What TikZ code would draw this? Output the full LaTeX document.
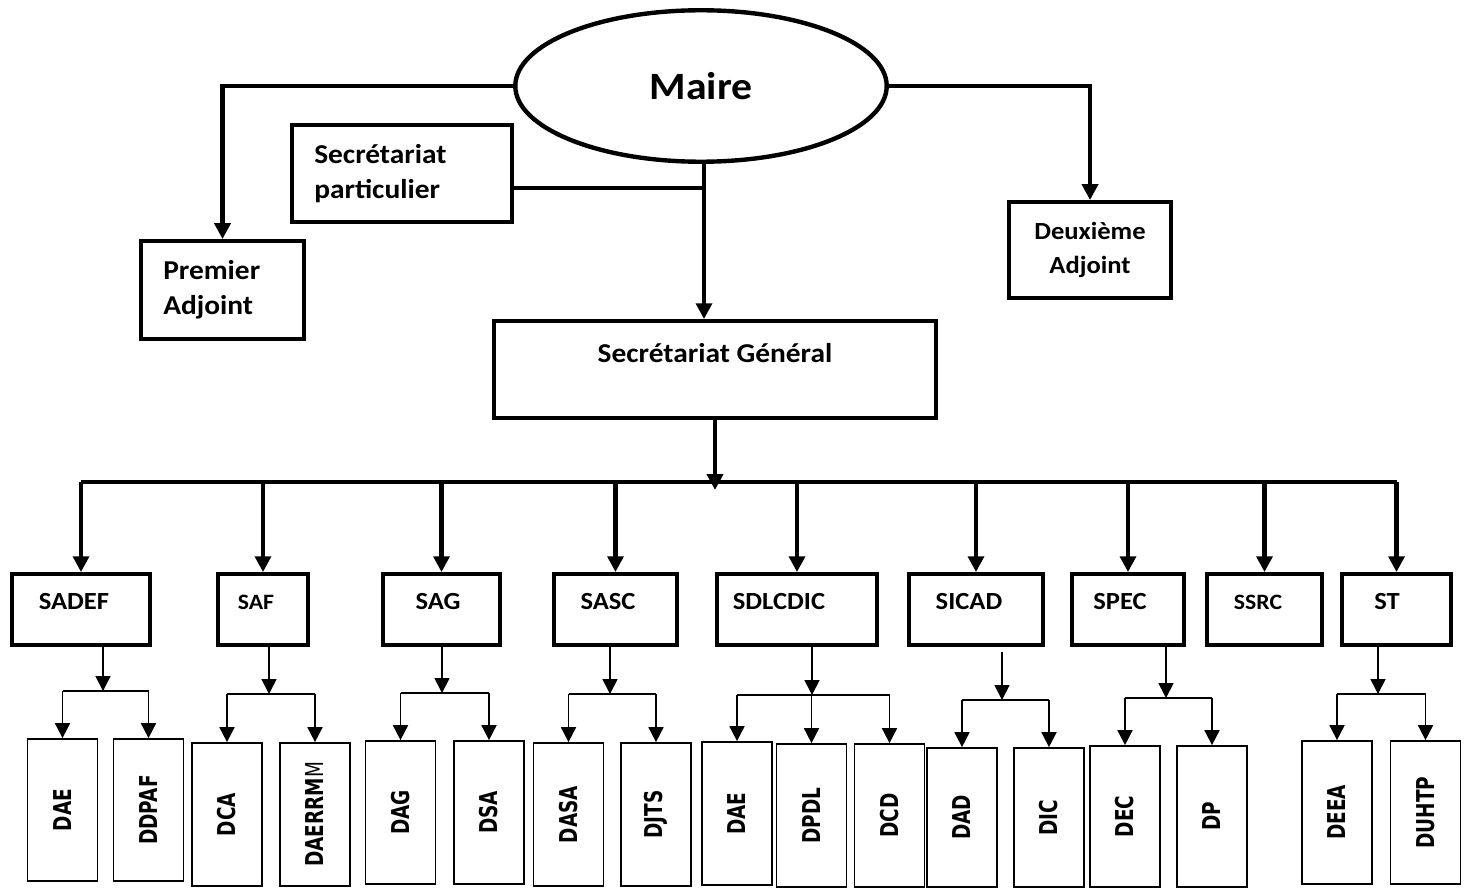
\documentclass[tikz,border=0pt]{standalone}
\usepackage{fontspec}
\usepackage{graphicx}
\usepackage{tikz}
\usetikzlibrary{arrows.meta,shapes.geometric}
\setmainfont{Carlito}[FakeStretch=1.08]
\newfontfamily\rotfont{DejaVu Sans}[FakeStretch=0.75]

\tikzset{
  chef/.style={ellipse, draw, line width=2.5pt, inner sep=0pt, minimum width=7.43cm, minimum height=3.03cm, font=\bfseries\fontsize{22}{27}\selectfont},
  topbox/.style={draw, line width=2.5pt, inner ysep=0pt, align=left, font=\bfseries\fontsize{15.5}{20}\selectfont},
  svcbox/.style={draw, line width=2.5pt, minimum height=1.41cm, text height=9pt, text depth=9pt, font=\bfseries\fontsize{14}{17}\selectfont, execute at end node={\kern#1}},
  svcbox/.default=0.28cm,
  dirbox/.style={draw, line width=1pt, minimum width=1.4cm, inner sep=0pt, font=\rotfont\bfseries\fontsize{14}{17}\selectfont},
  bigline/.style={line width=2.5pt},
  bigarrow/.style={line width=2.5pt, -{Triangle[width=9pt,length=9pt]}},
  smallline/.style={line width=1pt},
  smallarrow/.style={line width=1pt, -{Triangle[width=8.5pt,length=8.5pt]}}
}

\begin{document}
\begin{tikzpicture}[x=0.02cm, y=-0.02cm]
  \useasboundingbox (0,0) rectangle (1473,888);

  % haut de l'organigramme
  \node[chef] (maire) at (701,86) {Maire};
  \node[topbox, minimum width=3.25cm, minimum height=1.95cm, text width=2.37cm, inner xsep=0.44cm] (premier) at (222.5,290) {Premier\\Adjoint};
  \node[topbox, minimum width=4.39cm, minimum height=1.93cm, text width=3.51cm, inner xsep=0.44cm] (sp) at (402,173.5) {Secrétariat\\particulier};
  \node[topbox, align=center, minimum width=3.23cm, minimum height=1.91cm, font=\bfseries\fontsize{14}{19}\selectfont] (deux) at (1090,250) {Deuxième\\Adjoint};
  \node[topbox, align=center, minimum width=8.83cm, minimum height=1.93cm, text height=10pt, text depth=18.5pt] (sg) at (715,369.5) {Secrétariat Général};

  \coordinate (spj) at (704,188);
  \coordinate (bus) at (715,482);

  \draw[bigarrow] (maire.west) -| (premier.north);
  \draw[bigarrow] (maire.east) -| (deux.north);
  \draw[bigarrow] (maire.south -| spj) -- (sg.north -| spj);
  \draw[bigline] (sp.east |- spj) -- (spj);
  \draw[bigarrow] (sg.south) -- ([yshift=-0.16cm]sg.south |- bus);

  % services
  \node[svcbox, minimum width=2.75cm] (sadef) at (81,609.5) {SADEF};
  \node[svcbox, minimum width=1.79cm, font=\bfseries\fontsize{12.5}{15}\selectfont] (saf) at (263,609.5) {SAF};
  \node[svcbox=0.14cm, minimum width=2.33cm] (sag) at (441.5,609.5) {SAG};
  \node[svcbox=0.3cm, minimum width=2.45cm] (sasc) at (615.5,609.5) {SASC};
  \node[svcbox=0.72cm, minimum width=3.19cm] (sdlcdic) at (797,609.5) {SDLCDIC};
  \node[svcbox, minimum width=2.67cm] (sicad) at (976,609.5) {SICAD};
  \node[svcbox=0.32cm, minimum width=2.23cm] (spec) at (1128,609.5) {SPEC};
  \node[svcbox=0.26cm, minimum width=2.29cm, font=\bfseries\fontsize{12.5}{15}\selectfont] (ssrc) at (1264.5,609.5) {SSRC};
  \node[svcbox=0.38cm, minimum width=2.17cm] (st) at (1396.5,609.5) {ST};

  \draw[bigline] (sadef.north |- bus) -- (st.north |- bus);
  \foreach \s in {sadef,saf,sag,sasc,sdlcdic,sicad,spec,ssrc,st}
    \draw[bigarrow] (\s.north |- bus) -- (\s.north);

  % directions
  \node[dirbox, minimum height=2.84cm] (dae1) at (62.5,810) {\rotatebox{90}{DAE}};
  \node[dirbox, minimum height=2.84cm] (ddpaf) at (148.5,810) {\rotatebox{90}{DDPAF}};
  \node[dirbox, minimum height=2.86cm] (dca) at (227,814.5) {\rotatebox{90}{DCA}};
  \node[dirbox, minimum height=2.86cm] (daerrmm) at (315,814.5) {\rotatebox{90}{DAERRM\mdseries M}};
  \node[dirbox, minimum height=2.86cm] (dag) at (400.5,812.5) {\rotatebox{90}{DAG}};
  \node[dirbox, minimum height=2.86cm] (dsa) at (489,812.5) {\rotatebox{90}{DSA}};
  \node[dirbox, minimum height=2.86cm] (dasa) at (568.5,814.5) {\rotatebox{90}{DASA}};
  \node[dirbox, minimum height=2.86cm] (djts) at (656,814.5) {\rotatebox{90}{DJTS}};
  \node[dirbox, minimum height=2.86cm] (dae2) at (737,813.5) {\rotatebox{90}{DAE}};
  \node[dirbox, minimum height=2.86cm] (dpdl) at (811.5,815.5) {\rotatebox{90}{DPDL}};
  \node[dirbox, minimum height=2.86cm] (dcd) at (889.5,815.5) {\rotatebox{90}{DCD}};
  \node[dirbox, minimum height=2.78cm] (dad) at (962,817.5) {\rotatebox{90}{DAD}};
  \node[dirbox, minimum height=2.78cm] (dic) at (1049,817.5) {\rotatebox{90}{DIC}};
  \node[dirbox, minimum height=2.82cm] (dec) at (1125,816.5) {\rotatebox{90}{DEC}};
  \node[dirbox, minimum height=2.82cm] (dp) at (1212,816.5) {\rotatebox{90}{DP}};
  \node[dirbox, minimum height=2.86cm] (deea) at (1337,812.5) {\rotatebox{90}{DEEA}};
  \node[dirbox, minimum height=2.86cm] (duhtp) at (1425.5,812.5) {\rotatebox{90}{DUHTP}};

  % SADEF
  \coordinate (sadefj) at (103,691);
  \draw[smallarrow] (sadef.south -| sadefj) -- (sadefj);
  \draw[smallline] (sadefj -| dae1.north) -- (sadefj -| ddpaf.north);
  \draw[smallarrow] (sadefj -| dae1.north) -- (dae1.north);
  \draw[smallarrow] (sadefj -| ddpaf.north) -- (ddpaf.north);

  % SAF
  \coordinate (safj) at (269,694);
  \draw[smallarrow] (saf.south -| safj) -- (safj);
  \draw[smallline] (safj -| dca.north) -- (safj -| daerrmm.north);
  \draw[smallarrow] (safj -| dca.north) -- (dca.north);
  \draw[smallarrow] (safj -| daerrmm.north) -- (daerrmm.north);

  % SAG
  \coordinate (sagj) at (442,693);
  \draw[smallarrow] (sag.south -| sagj) -- (sagj);
  \draw[smallline] (sagj -| dag.north) -- (sagj -| dsa.north);
  \draw[smallarrow] (sagj -| dag.north) -- (dag.north);
  \draw[smallarrow] (sagj -| dsa.north) -- (dsa.north);

  % SASC
  \coordinate (sascj) at (610,694);
  \draw[smallarrow] (sasc.south -| sascj) -- (sascj);
  \draw[smallline] (sascj -| dasa.north) -- (sascj -| djts.north);
  \draw[smallarrow] (sascj -| dasa.north) -- (dasa.north);
  \draw[smallarrow] (sascj -| djts.north) -- (djts.north);

  % SDLCDIC
  \coordinate (sdlcdicj) at (812,695);
  \draw[smallarrow] (sdlcdic.south -| sdlcdicj) -- (sdlcdicj);
  \draw[smallline] (sdlcdicj -| dae2.north) -- (sdlcdicj -| dcd.north);
  \draw[smallarrow] (sdlcdicj -| dae2.north) -- (dae2.north);
  \draw[smallarrow] (sdlcdicj -| dpdl.north) -- (dpdl.north);
  \draw[smallarrow] (sdlcdicj -| dcd.north) -- (dcd.north);

  % SICAD
  \coordinate (sicadj) at (1002,700);
  \draw[smallarrow, shorten <=0.1cm] (sicad.south -| sicadj) -- (sicadj);
  \draw[smallline] (sicadj -| dad.north) -- (sicadj -| dic.north);
  \draw[smallarrow] (sicadj -| dad.north) -- (dad.north);
  \draw[smallarrow] (sicadj -| dic.north) -- (dic.north);

  % SPEC
  \coordinate (specj) at (1166,698);
  \draw[smallarrow] (spec.south -| specj) -- (specj);
  \draw[smallline] (specj -| dec.north) -- (specj -| dp.north);
  \draw[smallarrow] (specj -| dec.north) -- (dec.north);
  \draw[smallarrow] (specj -| dp.north) -- (dp.north);

  % ST
  \coordinate (stj) at (1378,694);
  \draw[smallarrow] (st.south -| stj) -- (stj);
  \draw[smallline] (stj -| deea.north) -- (stj -| duhtp.north);
  \draw[smallarrow] (stj -| deea.north) -- (deea.north);
  \draw[smallarrow] (stj -| duhtp.north) -- (duhtp.north);
\end{tikzpicture}
\end{document}
